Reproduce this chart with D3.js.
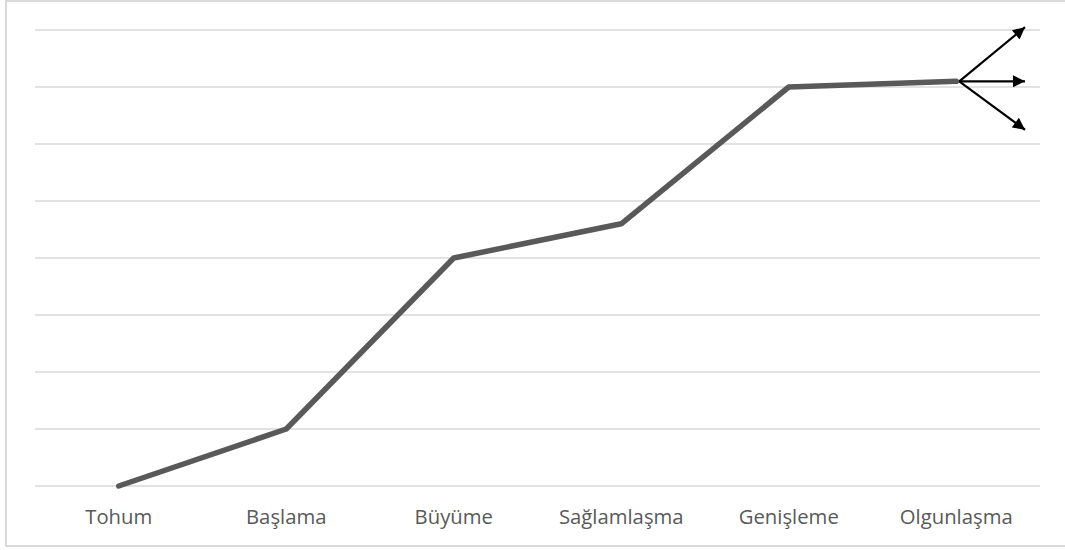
<!DOCTYPE html>
<html><head><meta charset="utf-8">
<script src="https://cdn.jsdelivr.net/npm/d3@7"></script>
<style>body{margin:0;background:#fff;}svg{display:block;}</style>
</head><body>
<script>
const categories = ["Tohum","Başlama","Büyüme","Sağlamlaşma","Genişleme","Olgunlaşma"];
const values = [0, 1, 4, 4.6, 7, 7.1];
const gridTicks = [0,1,2,3,4,5,6,7,8];

const W = 1065, H = 550;
const svg = d3.select("body").append("svg").attr("width", W).attr("height", H);

// chart border
svg.append("rect").attr("x", 6).attr("y", 1).attr("width", 1070).attr("height", 545)
  .attr("fill", "none").attr("stroke", "#d9d9d9").attr("stroke-width", 2);

const x = d3.scaleBand().domain(categories).range([35, 1040]);
const y = d3.scaleLinear().domain([0, 8]).range([486, 30]);

svg.append("g").selectAll("line").data(gridTicks).join("line")
  .attr("x1", 35).attr("x2", 1040)
  .attr("y1", d => y(d)).attr("y2", d => y(d))
  .attr("stroke", "#d9d9d9").attr("stroke-width", 1.5);

const xAxis = d3.axisBottom(x).tickSize(0).tickPadding(0);
const gx = svg.append("g").attr("transform", "translate(0,486)").call(xAxis);
gx.select(".domain").remove();
gx.selectAll("text").attr("dy", null).attr("y", 38)
  .attr("font-family", "'Open Sans', sans-serif").attr("font-size", 20.3).attr("fill", "#595959");

const line = d3.line().x((d,i) => x(categories[i]) + x.bandwidth()/2).y(d => y(d));
svg.append("path").datum(values).attr("d", line)
  .attr("fill", "none").attr("stroke", "#595959").attr("stroke-width", 5.5)
  .attr("stroke-linecap", "round").attr("stroke-linejoin", "round");

// arrows from the last point
const defs = svg.append("defs");
defs.append("marker").attr("id", "ah").attr("viewBox", "0 0 10 10")
  .attr("refX", 10).attr("refY", 5).attr("markerWidth", 15).attr("markerHeight", 12)
  .attr("markerUnits", "userSpaceOnUse").attr("orient", "auto")
  .append("path").attr("d", "M0,0 L10,5 L0,10 Z").attr("fill", "#000");
const ax = x(categories[5]) + x.bandwidth()/2 + 3, ay = y(values[5]);
const arrowTargets = [[1025, y(8.05)], [1025, ay], [1025, y(6.25)]];
svg.append("g").selectAll("line").data(arrowTargets).join("line")
  .attr("x1", ax).attr("y1", ay).attr("x2", d => d[0]).attr("y2", d => d[1])
  .attr("stroke", "#000").attr("stroke-width", 2.2).attr("marker-end", "url(#ah)");
</script>
</body></html>
